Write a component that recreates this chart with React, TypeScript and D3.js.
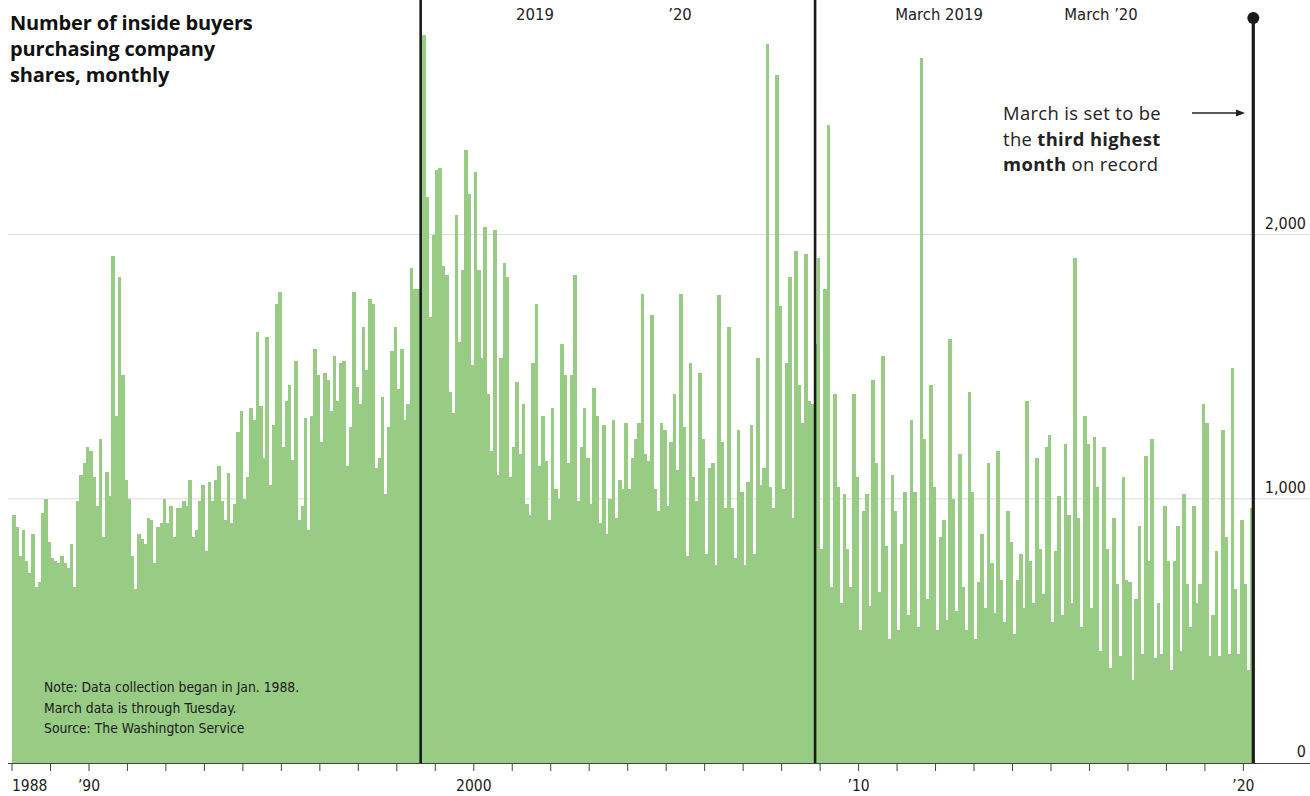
import React from "react";
import * as d3 from "d3";

// Monthly count of insiders buying their own company's shares, Jan 1988 – Mar 2020
const START_YEAR = 1988;

const buyers1988to1992 = [
  937, 892, 784, 883, 766, 721, 865, 667, 685, 946, 1000, 838,
  775, 766, 757, 784, 757, 739, 829, 667, 991, 1090, 1135, 1198,
  1180, 1081, 973, 1225, 856, 1100, 1009, 1919, 1315, 1838, 1469, 1072,
  1000, 784, 658, 865, 847, 829, 928, 919, 757, 892, 910, 1000,
  910, 973, 856, 964, 964, 991, 973, 1072, 856, 883, 991, 1054,
];

const buyers1993to1997 = [
  802, 1063, 991, 1072, 1126, 991, 919, 1099, 910, 982, 1252, 1333,
  1000, 1081, 1342, 1297, 1631, 1351, 1153, 1613, 1054, 1279, 1739, 1784,
  1198, 1369, 1432, 1146, 1523, 919, 973, 1306, 883, 1315, 1568, 1469,
  1216, 1478, 1450, 1333, 1541, 1369, 1514, 1523, 1126, 1270, 1784, 1424,
  1360, 1649, 1487, 1757, 1739, 1117, 1153, 1387, 1018, 1270, 1559, 1649,
];

const buyers1998to2002 = [
  1415, 1568, 1297, 1360, 1874, 1793, 1793, 1780, 2757, 2144, 1690, 2000,
  2245, 2254, 1883, 1847, 1405, 1324, 2076, 1595, 1865, 2321, 2153, 1505,
  2238, 1865, 1532, 2027, 1396, 1180, 2018, 1090, 1532, 1892, 1838, 1081,
  1198, 1441, 1171, 1360, 982, 937, 1514, 1739, 1126, 1315, 1144, 919,
  1342, 1036, 1000, 1586, 1469, 1135, 1469, 1847, 991, 1198, 1342, 1153,
];

const buyers2003to2007 = [
  982, 1418, 1315, 910, 1279, 865, 1000, 1297, 928, 1072, 1036, 1288,
  1036, 1153, 1225, 1288, 1775, 1171, 1144, 1694, 1036, 955, 1288, 1261,
  973, 1216, 1396, 1108, 1775, 1270, 784, 1514, 1081, 991, 1478, 1225,
  793, 1117, 1135, 748, 1770, 1216, 964, 1649, 964, 775, 1261, 1027,
  748, 1063, 1279, 793, 1532, 1054, 1117, 2721, 1045, 964, 2604, 1730,
];

const buyers2008to2012 = [
  1036, 1514, 1838, 928, 1937, 1432, 1288, 1928, 1369, 1360, 1586, 1910,
  811, 1793, 2415, 667, 1396, 1045, 604, 1018, 811, 667, 1396, 1081,
  505, 955, 1018, 595, 1450, 1135, 649, 1541, 820, 469, 1090, 955,
  505, 829, 1027, 559, 1297, 1027, 514, 2667, 1225, 622, 1432, 1045,
  505, 856, 919, 541, 1604, 1000, 577, 1171, 667, 505, 1405, 1027,
];

const buyers2013to2020 = [
  469, 685, 865, 586, 1135, 757, 568, 1180, 694, 532, 955, 838,
  487, 694, 793, 586, 1369, 766, 604, 1153, 811, 640, 1198, 1243,
  532, 802, 1009, 559, 1207, 937, 604, 1910, 928, 514, 1315, 1207,
  586, 1234, 1045, 423, 1198, 811, 360, 928, 676, 405, 1081, 694,
  685, 315, 622, 896, 414, 1162, 766, 1225, 396, 604, 414, 973,
  766, 351, 766, 896, 423, 1018, 676, 514, 973, 604, 676, 1360,
  1288, 405, 559, 802, 405, 1261, 856, 414, 1496, 658, 414, 919,
  676, 351, 964,
];

const buyers = [
  ...buyers1988to1992,
  ...buyers1993to1997,
  ...buyers1998to2002,
  ...buyers2003to2007,
  ...buyers2008to2012,
  ...buyers2013to2020,
];

const monthIndex = d3.range(buyers.length);

// Value-axis ticks and the top of the March marker line
const valueTicks = [0, 1000, 2000];
const markerTop = 2820;

// Year axis
const tickYears = d3.range(START_YEAR, 2021);
const labelYears = [1988, 1990, 2000, 2010, 2020];
const labelTexts = ["1988", "\u201990", "2000", "\u201910", "\u201920"];

// Vertical event rules: first month after each break (Sep 1998, Dec 2008)
const eventMonths = [
  { year: 1998, month: 9 },
  { year: 2008, month: 12 },
];

const headerTexts = ["2019", "\u201920", "March 2019", "March \u201920"];
const noteLines = [
  "Note: Data collection began in Jan. 1988.",
  "March data is through Tuesday.",
  "Source: The Washington Service",
];

const W = 1310;
const H = 796;
const BAR = "#98cc85";
const INK = "#1a1a1a";
const NARROW =
  "'Liberation Sans Narrow', 'DejaVu Sans Condensed', 'Roboto', sans-serif";
const SANS = "'Open Sans', 'Noto Sans', sans-serif";

const idx = (year: number, month: number) => (year - START_YEAR) * 12 + (month - 1);

export default function App() {
  const x = d3
    .scaleBand<number>()
    .domain(monthIndex)
    .range([12, 1253])
    .padding(0);
  const y = d3.scaleLinear().domain([0, markerTop]).range([763, 18]);

  const xStart = (i: number) => x(i) as number;
  const endX = xStart(buyers.length - 1) + x.bandwidth() + 0.3;
  const base = y(0);

  return (
    <svg
      width={W}
      height={H}
      viewBox={`0 0 ${W} ${H}`}
      style={{ position: "fixed", left: 0, top: 0, background: "#fff" }}
    >
      {/* gridlines */}
      {valueTicks
        .filter((v) => v > 0)
        .map((v) => (
          <line
            key={`g${v}`}
            x1={8}
            x2={W}
            y1={y(v)}
            y2={y(v)}
            stroke="#dcdcdc"
            strokeWidth={1}
          />
        ))}

      {/* monthly bars */}
      <g shapeRendering="crispEdges">
        {buyers.map((v, i) => (
          <rect
            key={i}
            x={xStart(i)}
            y={y(v)}
            width={x.bandwidth() + 0.4}
            height={base - y(v)}
            fill={BAR}
          />
        ))}
      </g>

      {/* baseline and year ticks */}
      <line x1={8} x2={W} y1={base + 0.5} y2={base + 0.5} stroke="#444" strokeWidth={1} />
      {tickYears.map((yr) => {
        const tx = xStart(idx(yr, 1));
        return (
          <line
            key={`t${yr}`}
            x1={tx}
            x2={tx}
            y1={base}
            y2={base + 8}
            stroke="#444"
            strokeWidth={1}
          />
        );
      })}
      {labelYears.map((yr, k) => {
        const tx = xStart(idx(yr, 1));
        return (
          <text
            key={`l${yr}`}
            x={tx}
            y={791}
            textAnchor={k === 0 ? "start" : "middle"}
            fontFamily={NARROW}
            fontSize={15.5}
            fill="#222"
          >
            {labelTexts[k]}
          </text>
        );
      })}

      {/* value labels on the right */}
      {valueTicks.map((v) => (
        <text
          key={`v${v}`}
          x={1306}
          y={y(v) - 6}
          textAnchor="end"
          fontFamily={NARROW}
          fontSize={16}
          fill="#222"
        >
          {d3.format(",")(v)}
        </text>
      ))}

      {/* event rules */}
      {eventMonths.map((e) => {
        const ex = xStart(idx(e.year, e.month)) - 1.8;
        return (
          <line
            key={`e${e.year}`}
            x1={ex}
            x2={ex}
            y1={0}
            y2={base}
            stroke={INK}
            strokeWidth={2.6}
          />
        );
      })}

      {/* March 2020 marker line */}
      <line x1={endX} x2={endX} y1={y(markerTop)} y2={base} stroke={INK} strokeWidth={3.2} />
      <circle cx={endX} cy={y(markerTop)} r={6} fill={INK} />

      {/* header fragments */}
      {headerTexts.map((t, k) => (
        <text
          key={`h${k}`}
          x={[535, 680, 939, 1101][k]}
          y={20}
          textAnchor="middle"
          fontFamily={NARROW}
          fontSize={16.5}
          fill="#222"
        >
          {t}
        </text>
      ))}

      {/* title */}
      <g fontFamily={SANS} fontWeight={700} fontSize={20} fill="#111" letterSpacing={-0.15}>
        <text x={10} y={30}>Number of inside buyers</text>
        <text x={10} y={56}>purchasing company</text>
        <text x={10} y={82}>shares, monthly</text>
      </g>

      {/* annotation */}
      <g fontFamily={SANS} fontSize={18.4} fill="#222" letterSpacing={0.35}>
        <text x={1003} y={120}>March is set to be</text>
        <text x={1003} y={145.5}>
          the <tspan fontWeight={700}>third highest</tspan>
        </text>
        <text x={1003} y={171}>
          <tspan fontWeight={700}>month</tspan> on record
        </text>
      </g>
      <line x1={1192} x2={1238} y1={113} y2={113} stroke="#222" strokeWidth={1.3} />
      <path d="M1245,113 L1236,109.5 L1236,116.5 Z" fill="#222" />

      {/* note */}
      <g fontFamily={NARROW} fontSize={13.8} fill="#1a1a1a">
        {noteLines.map((t, k) => (
          <text key={`n${k}`} x={44} y={692 + k * 20.5}>
            {t}
          </text>
        ))}
      </g>
    </svg>
  );
}
